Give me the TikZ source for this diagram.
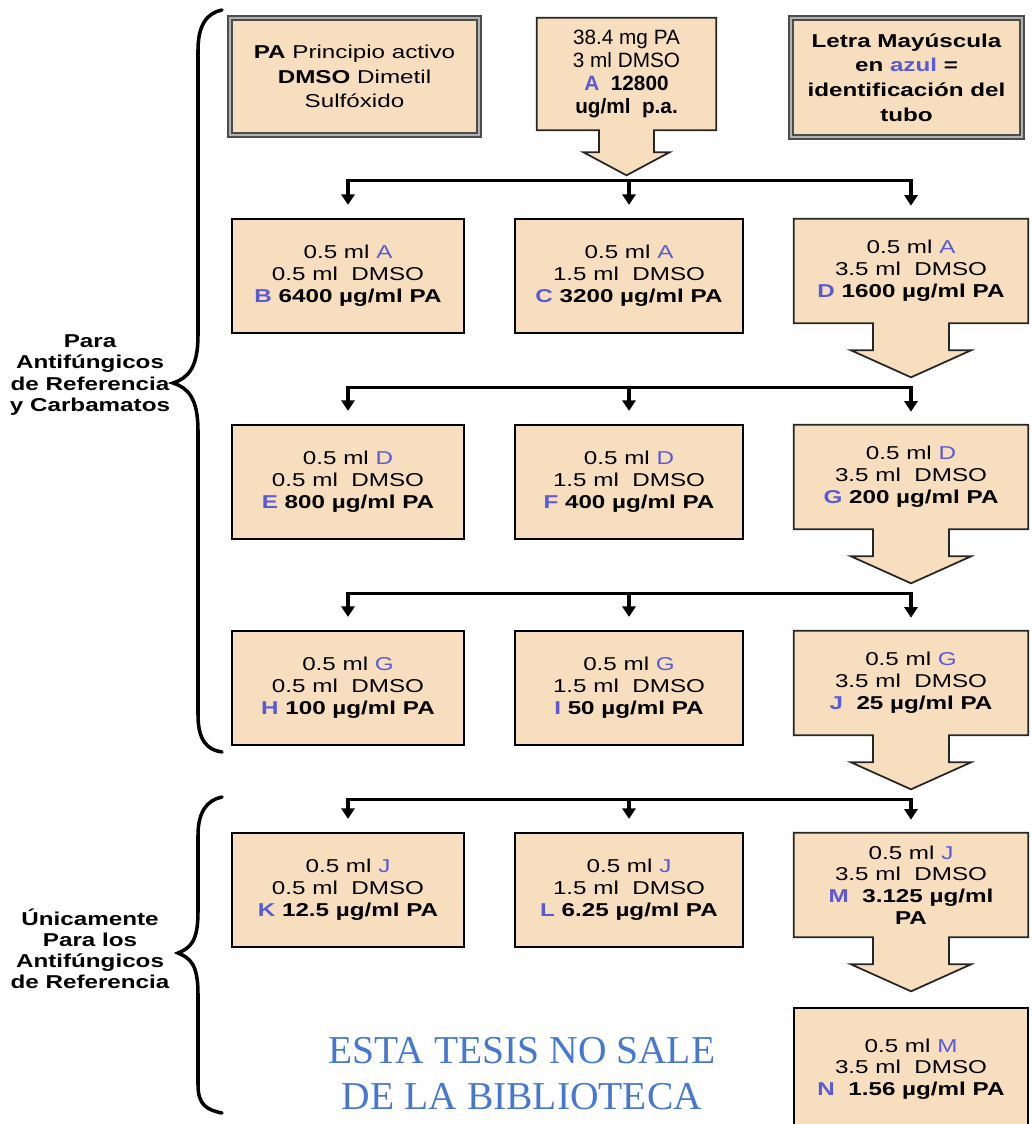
\documentclass[tikz,border=0pt]{standalone}
\usepackage{fontspec}
\setmainfont{Liberation Sans}[FakeStretch=1.3]
\newfontfamily\llano{Liberation Sans}
\newfontfamily\sello{Liberation Serif}
\usetikzlibrary{arrows.meta,backgrounds}

\definecolor{tubofill}{RGB}{247,222,190}
\definecolor{tuboazul}{RGB}{90,90,210}
\definecolor{selloazul}{RGB}{70,120,210}
\newcommand{\tubo}[1]{\textcolor{tuboazul}{#1}}

\begin{document}
\begin{tikzpicture}[x=0.02cm, y=-0.02cm,
  caja/.style={draw=black, line width=1.3pt, fill=tubofill, align=center, inner sep=0pt,
    minimum height=2.28cm, font=\fontsize{10.6}{12.4}\selectfont},
  bloque/.style={align=center, inner sep=0pt, minimum width=4.68cm, minimum height=2.08cm,
    font=\fontsize{10.6}{12.4}\selectfont},
  flecha/.style={fill=tubofill, draw=black!85, line width=1pt},
  leyenda/.style={draw=black!70, double=black!30, double distance=1pt, line width=1.1pt,
    fill=tubofill, align=center, inner sep=0pt, font=\fontsize{10.6}{14}\selectfont},
  barra/.style={line width=2pt, line cap=rect},
  baja/.style={line width=2pt, -{Triangle[length=6pt,width=7.5pt]}, shorten >=0.26cm},
  llave/.style={line width=2pt, line cap=round},
  rotulo/.style={align=center, font=\bfseries\fontsize{10.6}{12}\selectfont}]

% Page size of the reference
\useasboundingbox (0,0) rectangle (1031,1124);
\clip (0,0) rectangle (1031,1124);

% Block arrow under a tube of the right column
\def\flechatubo#1{%
  \begin{scope}[on background layer]
  \draw[flecha] (#1.north west) -- (#1.north east) -- (#1.south east)
    -- ([xshift=0.76cm]#1.south) -- ([xshift=0.76cm,yshift=-0.54cm]#1.south)
    -- ([xshift=1.2cm,yshift=-0.54cm]#1.south) -- ([yshift=-1.08cm]#1.south) coordinate (#1tip)
    -- ([xshift=-1.2cm,yshift=-0.54cm]#1.south) -- ([xshift=-0.76cm,yshift=-0.54cm]#1.south)
    -- ([xshift=-0.76cm]#1.south) -- (#1.south west) -- cycle;
  \end{scope}}

% Legend boxes and stock solution A
\node[leyenda, minimum width=4.98cm, minimum height=2.34cm] (leyPA) at (354.5,76.5)
  {\textbf{PA} Principio activo\\\textbf{DMSO} Dimetil\\Sulfóxido};
\node[leyenda, minimum width=4.62cm, minimum height=2.38cm] (leyAzul) at (906.5,77.5)
  {\textbf{Letra Mayúscula}\\\textbf{en \tubo{azul} =}\\\textbf{identificación del}\\\textbf{tubo}};
\node[bloque, minimum width=3.58cm, minimum height=2.24cm, font=\llano\fontsize{11.8}{13.2}\selectfont] (A) at (626.5,74)
  {38.4 mg PA\\3 ml DMSO\\\textbf{\tubo{A}\ \ 12800}\\\textbf{ug/ml\ \ p.a.}};
\begin{scope}[on background layer]
\draw[flecha] (A.north west) -- (A.north east) -- (A.south east)
  -- ([xshift=0.55cm]A.south) -- ([xshift=0.55cm,yshift=-0.44cm]A.south)
  -- ([xshift=0.86cm,yshift=-0.44cm]A.south) -- ([yshift=-0.9cm]A.south) coordinate (Atip)
  -- ([xshift=-0.86cm,yshift=-0.44cm]A.south) -- ([xshift=-0.55cm,yshift=-0.44cm]A.south)
  -- ([xshift=-0.55cm]A.south) -- (A.south west) -- cycle;
\end{scope}

% First dilution row
\node[caja, minimum width=4.64cm] (B) at (348,276) {0.5 ml \tubo{A}\\0.5 ml\ \ DMSO\\\textbf{\tubo{B} 6400 µg/ml PA}};
\node[caja, minimum width=4.56cm] (C) at (629,276) {0.5 ml \tubo{A}\\1.5 ml\ \ DMSO\\\textbf{\tubo{C} 3200 µg/ml PA}};
\node[bloque] (D) at (911,271) {0.5 ml \tubo{A}\\3.5 ml\ \ DMSO\\\textbf{\tubo{D} 1600 µg/ml PA}};
\flechatubo{D}
\coordinate (bar1) at ([yshift=-0.1cm]Atip);
\draw[barra] (B.north |- bar1) -- (D.north |- bar1);
\draw[baja] (B.north |- bar1) -- (B.north);
\draw[baja] (C.north |- bar1) -- (C.north);
\draw[baja] (D.north |- bar1) -- (D.north);

% Second dilution row
\node[caja, minimum width=4.64cm] (E) at (348,482) {0.5 ml \tubo{D}\\0.5 ml\ \ DMSO\\\textbf{\tubo{E} 800 µg/ml PA}};
\node[caja, minimum width=4.56cm] (F) at (629,482) {0.5 ml \tubo{D}\\1.5 ml\ \ DMSO\\\textbf{\tubo{F} 400 µg/ml PA}};
\node[bloque] (G) at (911,477) {0.5 ml \tubo{D}\\3.5 ml\ \ DMSO\\\textbf{\tubo{G} 200 µg/ml PA}};
\flechatubo{G}
\coordinate (bar2) at ([yshift=-0.2cm]Dtip);
\draw[barra] (E.north |- bar2) -- (G.north |- bar2);
\draw[baja] (E.north |- bar2) -- (E.north);
\draw[baja] (F.north |- bar2) -- (F.north);
\draw[baja] (G.north |- bar2) -- (G.north);

% Third dilution row
\node[caja, minimum width=4.64cm] (H) at (348,688) {0.5 ml \tubo{G}\\0.5 ml\ \ DMSO\\\textbf{\tubo{H} 100 µg/ml PA}};
\node[caja, minimum width=4.56cm] (I) at (629,688) {0.5 ml \tubo{G}\\1.5 ml\ \ DMSO\\\textbf{\tubo{I} 50 µg/ml PA}};
\node[bloque] (J) at (911,683) {0.5 ml \tubo{G}\\3.5 ml\ \ DMSO\\\textbf{\tubo{J}\ \ 25 µg/ml PA}};
\flechatubo{J}
\coordinate (bar3) at ([yshift=-0.2cm]Gtip);
\draw[barra] (H.north |- bar3) -- (J.north |- bar3);
\draw[baja] (H.north |- bar3) -- (H.north);
\draw[baja] (I.north |- bar3) -- (I.north);
\draw[baja] (J.north |- bar3) -- (J.north);

% Fourth dilution row and last tube
\node[caja, minimum width=4.64cm] (K) at (348,890) {0.5 ml \tubo{J}\\0.5 ml\ \ DMSO\\\textbf{\tubo{K} 12.5 µg/ml PA}};
\node[caja, minimum width=4.56cm] (L) at (629,890) {0.5 ml \tubo{J}\\1.5 ml\ \ DMSO\\\textbf{\tubo{L} 6.25 µg/ml PA}};
\node[bloque] (M) at (911,885) {0.5 ml \tubo{J}\\3.5 ml\ \ DMSO\\\textbf{\tubo{M}\ \ 3.125 µg/ml}\\\textbf{PA}};
\flechatubo{M}
\coordinate (bar4) at ([yshift=-0.2cm]Jtip);
\draw[barra] (K.north |- bar4) -- (M.north |- bar4);
\draw[baja] (K.north |- bar4) -- (K.north);
\draw[baja] (L.north |- bar4) -- (L.north);
\draw[baja] (M.north |- bar4) -- (M.north);
\node[caja, minimum width=4.68cm, minimum height=2.44cm] (N) at (911,1069) {0.5 ml \tubo{M}\\3.5 ml\ \ DMSO\\\textbf{\tubo{N}\ \ 1.56 µg/ml PA}};

% Braces and their labels
\draw[llave] (222,10) .. controls (207,13) and (198,25) .. (198,50) -- (198,335)
  .. controls (198,368) and (188,378) .. (173,383) .. controls (188,388) and (198,398) .. (198,431)
  -- (198,715) .. controls (198,740) and (207,750) .. (222,752);
\node[rotulo] (paraTodos) at (90,375) {Para\\Antifúngicos\\de Referencia\\y Carbamatos};
\draw[llave] (222,797) .. controls (207,800) and (198,812) .. (198,835) -- (198,912)
  .. controls (198,942) and (190,948) .. (178,953) .. controls (190,958) and (198,964) .. (198,994)
  -- (198,1085) .. controls (198,1105) and (207,1110) .. (222,1113);
\node[rotulo] (soloRef) at (90,949) {Únicamente\\Para los\\Antifúngicos\\de Referencia};

% Library stamp
\node[anchor=south, inner sep=0pt, align=center, text=selloazul,
  font=\sello\fontsize{22.5}{26}\selectfont] (sello) at (522,1110) {ESTA TESIS NO SALE\\DE LA BIBLIOTECA};
\end{tikzpicture}
\end{document}
